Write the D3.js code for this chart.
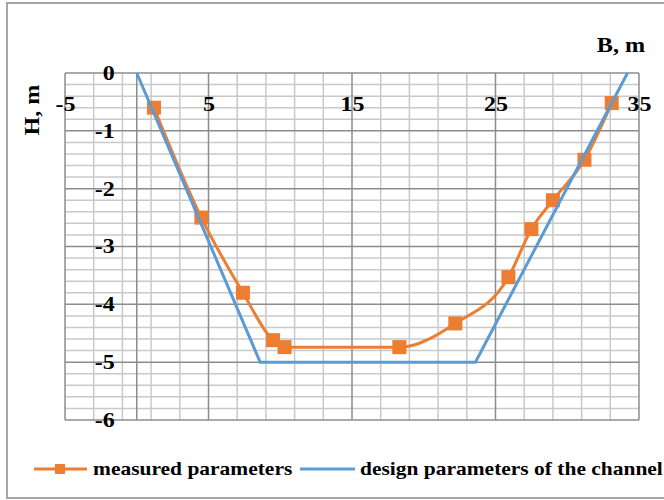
<!DOCTYPE html>
<html>
<head>
	<meta charset='utf-8'>
	<title>Channel cross-section</title>
	<style>
		body { margin: 0; background: #fff; }
		svg text { font-family: 'Liberation Serif', 'Times New Roman', serif; font-weight: bold; fill: #000; }
		.minor { stroke: #c9c9c9; stroke-width: 1.5px; }
		.major { stroke: #8c8c8c; stroke-width: 1.5px; }
		.axis path, .axis line { display: none; }
		.measured { fill: none; stroke: #ed7d31; stroke-width: 3px; }
		.design { fill: none; stroke: #5b9bd5; stroke-width: 3px; }
		.marker { fill: #ed7d31; }
	</style>
</head>
<body>
<script src='https://d3js.org/d3.v7.min.js'></script>
<script>
	'use strict';

	// measured parameters
	const measuredB = [1.2, 4.5, 7.4, 9.5, 10.3, 18.3, 22.2, 25.9, 27.5, 29.0, 31.2, 33.1];
	const measuredH = [-0.6, -2.5, -3.8, -4.62, -4.74, -4.74, -4.33, -3.53, -2.7, -2.2, -1.5, -0.52];
	// design parameters of the channel
	const designB = [0, 8.6, 23.6, 34.2];
	const designH = [0, -5, -5, 0];

	const xTicks = [-5, 5, 15, 25, 35];
	const yTicks = [0, -1, -2, -3, -4, -5, -6];
	const seriesNames = ['measured parameters', 'design parameters of the channel'];

	const W = 664, H = 500;
	const x = d3.scaleLinear().domain([-5, 35]).range([65, 639]);
	const y = d3.scaleLinear().domain([0, -6]).range([73, 420]);

	const svg = d3.select('body').append('svg')
		.attr('width', W)
		.attr('height', H);

	// рамка
	svg.append('rect')
		.attr('x', 7).attr('y', 3)
		.attr('width', W + 10).attr('height', 495)
		.attr('fill', '#fff')
		.attr('stroke', '#a6a6a6')
		.attr('stroke-width', 2);

	const grid = svg.append('g');

	// сетка: вертикальные
	grid.selectAll('.vminor').data(d3.range(-5, 35.01, 2).filter(v => xTicks.indexOf(v) < 0))
		.enter().append('line')
		.attr('class', 'minor')
		.attr('x1', d => x(d)).attr('x2', d => x(d))
		.attr('y1', y(0)).attr('y2', y(-6));

	// горизонтальные
	grid.selectAll('.hminor').data(d3.range(1, 30).map(i => -i * 0.2).filter(v => Math.abs(v - Math.round(v)) > 0.01))
		.enter().append('line')
		.attr('class', 'minor')
		.attr('x1', x(-5)).attr('x2', x(35))
		.attr('y1', d => y(d)).attr('y2', d => y(d));

	grid.selectAll('.vmajor').data(xTicks.concat([0]))
		.enter().append('line')
		.attr('class', 'major')
		.attr('x1', d => x(d)).attr('x2', d => x(d))
		.attr('y1', y(0)).attr('y2', y(-6));

	grid.selectAll('.hmajor').data(yTicks)
		.enter().append('line')
		.attr('class', 'major')
		.attr('x1', x(-5)).attr('x2', x(35))
		.attr('y1', d => y(d)).attr('y2', d => y(d));

	// оси (дефис вместо минуса, как в оригинале)
	const sx = 1.2;
	const fmt = d => String(d);
	svg.append('g')
		.attr('class', 'axis')
		.attr('transform', 'translate(0,' + y(0) + ')')
		.call(d3.axisBottom(x).tickValues(xTicks).tickSize(0).tickPadding(24).tickFormat(fmt))
		.selectAll('text')
		.style('font-size', '20px')
		.attr('transform', 'scale(' + sx + ',1)');

	svg.append('g')
		.attr('class', 'axis')
		.attr('transform', 'translate(' + x(0) + ',0)')
		.call(d3.axisLeft(y).tickValues(yTicks).tickSize(0).tickPadding(22).tickFormat(fmt))
		.selectAll('text')
		.style('font-size', '20px')
		.attr('x', -22 / sx)
		.attr('transform', 'scale(' + sx + ',1)');

	// подписи осей
	svg.append('text')
		.attr('transform', 'translate(39,110) rotate(-90) scale(1.15,1)')
		.attr('text-anchor', 'middle')
		.style('font-size', '21px')
		.text('H, m');

	svg.append('text')
		.attr('transform', 'translate(621,52) scale(1.15,1)')
		.attr('text-anchor', 'middle')
		.style('font-size', '21px')
		.text('B, m');

	// серии
	const measured = measuredB.map((b, i) => ({b: b, h: measuredH[i]}));
	const design = designB.map((b, i) => ({b: b, h: designH[i]}));

	const smooth = d3.line()
		.x(d => x(d.b))
		.y(d => y(d.h))
		.curve(d3.curveMonotoneX);

	const straight = d3.line()
		.x(d => x(d.b))
		.y(d => y(d.h));

	svg.append('path')
		.datum(measured)
		.attr('class', 'measured')
		.attr('d', smooth);

	svg.selectAll('.marker').data(measured)
		.enter().append('rect')
		.attr('class', 'marker')
		.attr('x', d => x(d.b) - 7)
		.attr('y', d => y(d.h) - 7)
		.attr('width', 14)
		.attr('height', 14);

	svg.append('path')
		.datum(design)
		.attr('class', 'design')
		.attr('d', straight);

	// легенда
	const legend = svg.append('g').attr('transform', 'translate(0,469)');

	legend.append('line')
		.attr('class', 'measured')
		.attr('x1', 34).attr('x2', 87)
		.attr('y1', 0).attr('y2', 0);
	legend.append('rect')
		.attr('class', 'marker')
		.attr('x', 55).attr('y', -5)
		.attr('width', 10).attr('height', 10);
	legend.append('text')
		.attr('transform', 'translate(93,6) scale(1.13,1)')
		.style('font-size', '19px')
		.text(seriesNames[0]);

	legend.append('line')
		.attr('class', 'design')
		.attr('x1', 300).attr('x2', 355)
		.attr('y1', 0).attr('y2', 0);
	legend.append('text')
		.attr('transform', 'translate(360,6) scale(1.13,1)')
		.style('font-size', '19px')
		.text(seriesNames[1]);
</script>
</body>
</html>
